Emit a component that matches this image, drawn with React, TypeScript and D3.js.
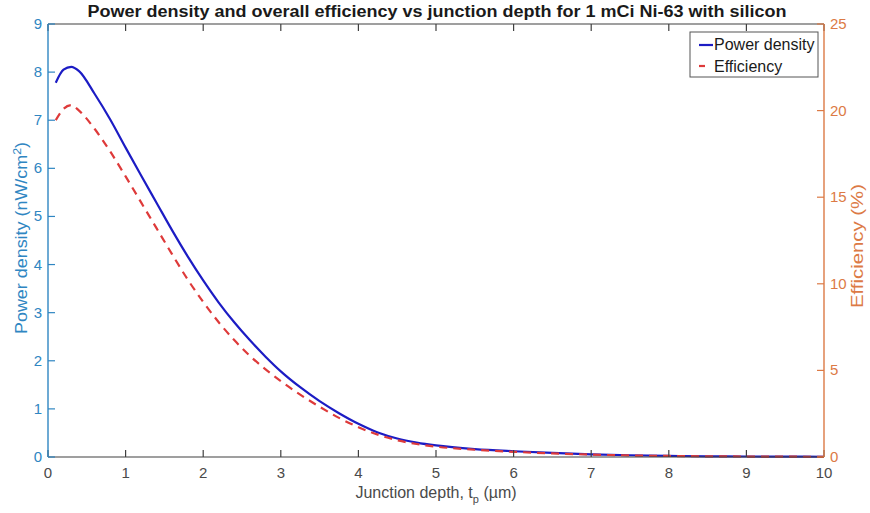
import React from "react";
import * as d3 from "d3";

// Junction depth samples (µm)
const depths = [
  0.1, 0.2, 0.3, 0.4, 0.6, 0.8, 1.0, 1.2, 1.4, 1.6, 1.8, 2.0, 2.2, 2.4, 2.6, 2.8,
  3.0, 3.25, 3.5, 3.75, 4.0, 4.25, 4.5, 4.75, 5.0, 5.5, 6.0, 6.5, 7.0, 7.5, 8.0,
  8.5, 9.0, 9.5, 10.0,
];

// Power density (nW/cm^2)
const powerDensity = [
  7.78, 8.05, 8.11, 8.02, 7.55, 7.02, 6.43, 5.85, 5.28, 4.71, 4.17, 3.67, 3.21,
  2.8, 2.43, 2.09, 1.78, 1.45, 1.16, 0.91, 0.69, 0.51, 0.385, 0.3, 0.24, 0.165,
  0.12, 0.085, 0.055, 0.036, 0.023, 0.015, 0.01, 0.007, 0.005,
];

// Overall efficiency (%)
const efficiency = [
  19.45, 20.1, 20.32, 20.0, 18.95, 17.65, 16.2, 14.7, 13.2, 11.7, 10.25, 8.95,
  7.78, 6.75, 5.85, 5.07, 4.38, 3.6, 2.9, 2.26, 1.72, 1.29, 0.97, 0.75, 0.6,
  0.42, 0.3, 0.21, 0.14, 0.09, 0.06, 0.04, 0.027, 0.018, 0.012,
];

const xTicks = [0, 1, 2, 3, 4, 5, 6, 7, 8, 9, 10];
const leftTicks = [0, 1, 2, 3, 4, 5, 6, 7, 8, 9];
const rightTicks = [0, 5, 10, 15, 20, 25];

const W = 870;
const H = 513;
const left = 48;
const right = 824;
const top = 24;
const bottom = 457;

const leftColor = "#2f86c2";
const rightColor = "#dc7a45";
const axisColor = "#404040";
const font = "'Liberation Sans', Arial, sans-serif";

export default function App() {
  const x = d3.scaleLinear().domain([0, 10]).range([left, right]);
  const yL = d3.scaleLinear().domain([0, 9]).range([bottom, top]);
  const yR = d3.scaleLinear().domain([0, 25]).range([bottom, top]);

  const powerLine = d3
    .line<number>()
    .x((_, i) => x(depths[i]))
    .y((d) => yL(d))
    .curve(d3.curveMonotoneX);
  const effLine = d3
    .line<number>()
    .x((_, i) => x(depths[i]))
    .y((d) => yR(d))
    .curve(d3.curveMonotoneX);

  const tickLen = 7;

  return (
    <svg
      width={W}
      height={H}
      style={{ position: "absolute", left: 0, top: 0, background: "#fff" }}
      fontFamily={font}
    >
      {/* title */}
      <text
        x={437}
        y={17}
        textAnchor="middle"
        fontSize={16}
        fontWeight="bold"
        fill="#1a1a1a"
        textLength={699}
        lengthAdjust="spacingAndGlyphs"
      >
        Power density and overall efficiency vs junction depth for 1 mCi Ni-63 with silicon
      </text>

      {/* data lines */}
      <path d={powerLine(powerDensity) || ""} fill="none" stroke="#1c1cc4" strokeWidth={2.2} />
      <path
        d={effLine(efficiency) || ""}
        fill="none"
        stroke="#de3a3a"
        strokeWidth={2.2}
        strokeDasharray="8,6"
      />

      {/* top & bottom axis lines */}
      <line x1={left} x2={right} y1={bottom} y2={bottom} stroke={axisColor} strokeWidth={1.2} />
      <line x1={left} x2={right} y1={top} y2={top} stroke={axisColor} strokeWidth={1.2} />

      {/* x ticks */}
      {xTicks.map((t) => (
        <g key={`x${t}`}>
          <line x1={x(t)} x2={x(t)} y1={bottom} y2={bottom - tickLen} stroke={axisColor} strokeWidth={1.2} />
          <line x1={x(t)} x2={x(t)} y1={top} y2={top + tickLen} stroke={axisColor} strokeWidth={1.2} />
          <text x={x(t)} y={bottom + 21} textAnchor="middle" fontSize={15} fill="#4a4a4a">
            {t}
          </text>
        </g>
      ))}

      {/* left axis */}
      <line x1={left} x2={left} y1={top} y2={bottom} stroke={leftColor} strokeWidth={1.4} />
      {leftTicks.map((t) => (
        <g key={`l${t}`}>
          <line x1={left} x2={left + tickLen} y1={yL(t)} y2={yL(t)} stroke={leftColor} strokeWidth={1.2} />
          <text x={left - 6} y={yL(t) + 5} textAnchor="end" fontSize={15} fill={leftColor}>
            {t}
          </text>
        </g>
      ))}
      <text
        transform={`translate(27, 238) rotate(-90)`}
        textAnchor="middle"
        fontSize={16}
        fill={leftColor}
        textLength={192}
        lengthAdjust="spacingAndGlyphs"
      >
        Power density (nW/cm
        <tspan dy={-6} fontSize={11}>2</tspan>
        <tspan dy={6}>)</tspan>
      </text>

      {/* right axis */}
      <line x1={right} x2={right} y1={top} y2={bottom} stroke={rightColor} strokeWidth={1.4} />
      {rightTicks.map((t) => (
        <g key={`r${t}`}>
          <line x1={right} x2={right - tickLen} y1={yR(t)} y2={yR(t)} stroke={rightColor} strokeWidth={1.2} />
          <text x={right + 6} y={yR(t) + 5} textAnchor="start" fontSize={15} fill={rightColor}>
            {t}
          </text>
        </g>
      ))}
      <text
        transform={`translate(863, 246) rotate(-90)`}
        textAnchor="middle"
        fontSize={16}
        fill={rightColor}
        textLength={124}
        lengthAdjust="spacingAndGlyphs"
      >
        Efficiency (%)
      </text>

      {/* x label */}
      <text x={436} y={498} textAnchor="middle" fontSize={16} fill="#4a4a4a">
        Junction depth, t
        <tspan dy={5} fontSize={11}>p</tspan>
        <tspan dy={-5}> (µm)</tspan>
      </text>

      {/* legend */}
      <g>
        <rect x={690} y={32} width={128} height={45} fill="#fff" stroke="#555" strokeWidth={1} />
        <line x1={699} x2={713} y1={45} y2={45} stroke="#1c1cc4" strokeWidth={2.2} />
        <text x={714} y={50} fontSize={16} fill="#1a1a1a">
          Power density
        </text>
        <line x1={699} x2={705} y1={66} y2={66} stroke="#de3a3a" strokeWidth={2.2} />
        <text x={714} y={72} fontSize={16} fill="#1a1a1a">
          Efficiency
        </text>
      </g>
    </svg>
  );
}
